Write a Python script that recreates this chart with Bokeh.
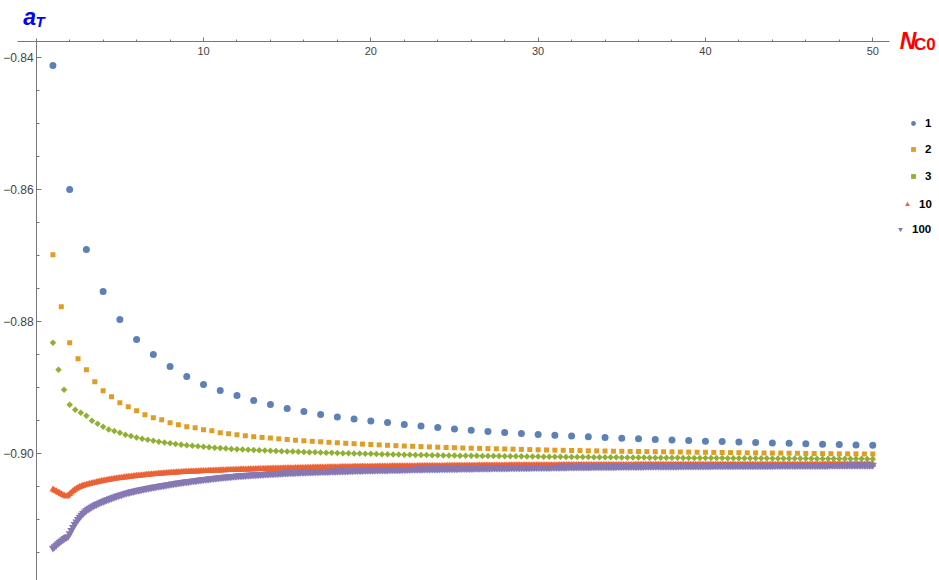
from bokeh.plotting import figure
from bokeh.models import Range1d, FixedTicker, CustomJSTickFormatter, Legend, LegendItem, Label
from bokeh.embed import file_html
from bokeh.resources import INLINE

# ---------------- data ----------------
legend_labels = ["1", "2", "3", "10", "100"]
x_major_ticks = [10, 20, 30, 40, 50]
x_minor_ticks = [2, 4, 6, 8, 12, 14, 16, 18, 22, 24, 26, 28, 32, 34, 36, 38, 42, 44, 46, 48]
y_major_ticks = [-0.84, -0.86, -0.88, -0.90]
y_minor_ticks = [-0.845, -0.85, -0.855, -0.865, -0.87, -0.875, -0.885, -0.89, -0.895,
                 -0.905, -0.91, -0.915]

# series "1": N_C0 = 1, 2, ..., 50
s1_x = list(range(1, 51))
s1_y = [-0.84114, -0.85992, -0.86902, -0.87538, -0.87962, -0.88265, -0.88492, -0.88674, -0.88826, -0.88947,
        -0.89038, -0.89114, -0.89189, -0.89250, -0.89311, -0.89356, -0.89402, -0.89439, -0.89470, -0.89500,
        -0.89523, -0.89553, -0.89576, -0.89598, -0.89621, -0.89639, -0.89659, -0.89674, -0.89689, -0.89705,
        -0.89717, -0.89727, -0.89739, -0.89750, -0.89761, -0.89770, -0.89780, -0.89789, -0.89797, -0.89805,
        -0.89812, -0.89820, -0.89826, -0.89833, -0.89839, -0.89845, -0.89852, -0.89856, -0.89862, -0.89868]

# series "2": N_C0 = 1, 1.5, ..., 50
s2_x = [1 + 0.5 * i for i in range(99)]
s2_y = [-0.86982, -0.87770, -0.88315, -0.88558, -0.88724, -0.88906, -0.89042, -0.89133,
        -0.89224, -0.89285, -0.89345, -0.89406, -0.89452, -0.89482, -0.89527, -0.89558,
        -0.89588, -0.89603, -0.89633, -0.89649, -0.89679, -0.89694, -0.89708, -0.89724,
        -0.89738, -0.89749, -0.89758, -0.89770, -0.89780, -0.89791, -0.89800, -0.89808,
        -0.89815, -0.89823, -0.89830, -0.89838, -0.89844, -0.89850, -0.89856, -0.89862,
        -0.89868, -0.89874, -0.89879, -0.89883, -0.89888, -0.89892, -0.89897, -0.89902,
        -0.89905, -0.89909, -0.89912, -0.89915, -0.89918, -0.89921, -0.89924, -0.89927,
        -0.89930, -0.89933, -0.89936, -0.89939, -0.89942, -0.89944, -0.89947, -0.89948,
        -0.89952, -0.89953, -0.89955, -0.89958, -0.89959, -0.89961, -0.89962, -0.89964,
        -0.89965, -0.89967, -0.89968, -0.89970, -0.89971, -0.89973, -0.89974, -0.89976,
        -0.89977, -0.89979, -0.89980, -0.89982, -0.89983, -0.89985, -0.89986, -0.89986,
        -0.89988, -0.89989, -0.89991, -0.89992, -0.89994, -0.89995, -0.89997, -0.89998,
        -0.89998, -0.89999, -0.90000]

# series "3": N_C0 = 1, 4/3, 5/3, ..., 50
s3_x = [1 + i / 3 for i in range(148)]
s3_y = [-0.88315,
        -0.88724, -0.89027, -0.89255, -0.89330, -0.89376, -0.89421,
        -0.89497, -0.89542, -0.89588, -0.89629, -0.89652, -0.89679,
        -0.89708, -0.89729, -0.89750, -0.89768, -0.89785, -0.89800,
        -0.89814, -0.89826, -0.89836, -0.89847, -0.89858, -0.89867,
        -0.89876, -0.89883, -0.89891, -0.89898, -0.89905, -0.89911,
        -0.89917, -0.89923, -0.89927, -0.89931, -0.89935, -0.89939,
        -0.89943, -0.89947, -0.89950, -0.89953, -0.89957, -0.89961,
        -0.89964, -0.89967, -0.89970, -0.89972, -0.89975, -0.89977,
        -0.89980, -0.89982, -0.89985, -0.89987, -0.89990, -0.89992,
        -0.89994, -0.89996, -0.89998, -0.90000, -0.90003, -0.90005,
        -0.90007, -0.90009, -0.90011, -0.90012, -0.90014, -0.90015,
        -0.90017, -0.90018, -0.90020, -0.90021, -0.90023, -0.90024,
        -0.90025, -0.90026, -0.90027, -0.90028, -0.90029, -0.90030,
        -0.90031, -0.90032, -0.90033, -0.90034, -0.90035, -0.90036,
        -0.90037, -0.90038, -0.90039, -0.90040, -0.90041, -0.90042,
        -0.90043, -0.90044, -0.90045, -0.90046, -0.90046, -0.90047,
        -0.90048, -0.90049, -0.90050, -0.90050, -0.90051, -0.90052,
        -0.90052, -0.90053, -0.90053, -0.90054, -0.90055, -0.90056,
        -0.90056, -0.90057, -0.90058, -0.90058, -0.90059, -0.90059,
        -0.90060, -0.90060, -0.90061, -0.90061, -0.90062, -0.90062,
        -0.90063, -0.90063, -0.90064, -0.90064, -0.90065, -0.90065,
        -0.90066, -0.90066, -0.90067, -0.90067, -0.90068, -0.90068,
        -0.90069, -0.90069, -0.90070, -0.90070, -0.90071, -0.90071,
        -0.90072, -0.90072, -0.90072, -0.90072, -0.90073, -0.90073,
        -0.90073, -0.90074, -0.90074]

# series "10": N_C0 = 1.0, 1.1, ..., 50.0 (one row per unit of N_C0)
s10_x = [round(1 + 0.1 * i, 1) for i in range(491)]
s10_y = [
    -0.90538, -0.90552, -0.90565, -0.90579, -0.90592, -0.90606, -0.90620, -0.90633, -0.90644, -0.90629,
    -0.90606, -0.90583, -0.90562, -0.90542, -0.90526, -0.90511, -0.90498, -0.90488, -0.90479, -0.90473,
    -0.90467, -0.90459, -0.90453, -0.90447, -0.90441, -0.90435, -0.90429, -0.90423, -0.90417, -0.90411,
    -0.90406, -0.90402, -0.90397, -0.90392, -0.90388, -0.90383, -0.90379, -0.90374, -0.90371, -0.90367,
    -0.90364, -0.90361, -0.90357, -0.90354, -0.90351, -0.90347, -0.90344, -0.90341, -0.90338, -0.90335,
    -0.90332, -0.90329, -0.90326, -0.90324, -0.90321, -0.90318, -0.90316, -0.90313, -0.90311, -0.90308,
    -0.90306, -0.90304, -0.90302, -0.90299, -0.90297, -0.90295, -0.90293, -0.90291, -0.90290, -0.90288,
    -0.90286, -0.90284, -0.90282, -0.90281, -0.90279, -0.90277, -0.90276, -0.90274, -0.90273, -0.90271,
    -0.90270, -0.90269, -0.90267, -0.90266, -0.90265, -0.90264, -0.90263, -0.90262, -0.90261, -0.90260,
    -0.90259, -0.90258, -0.90257, -0.90256, -0.90255, -0.90254, -0.90252, -0.90251, -0.90250, -0.90249,
    -0.90248, -0.90247, -0.90246, -0.90245, -0.90244, -0.90244, -0.90243, -0.90242, -0.90241, -0.90240,
    -0.90239, -0.90238, -0.90237, -0.90236, -0.90235, -0.90235, -0.90234, -0.90233, -0.90232, -0.90231,
    -0.90230, -0.90229, -0.90229, -0.90228, -0.90227, -0.90227, -0.90226, -0.90225, -0.90225, -0.90224,
    -0.90223, -0.90222, -0.90222, -0.90221, -0.90221, -0.90220, -0.90219, -0.90219, -0.90218, -0.90218,
    -0.90217, -0.90216, -0.90216, -0.90215, -0.90215, -0.90214, -0.90213, -0.90213, -0.90212, -0.90212,
    -0.90211, -0.90210, -0.90210, -0.90209, -0.90209, -0.90208, -0.90207, -0.90207, -0.90206, -0.90206,
    -0.90205, -0.90205, -0.90204, -0.90204, -0.90203, -0.90203, -0.90202, -0.90202, -0.90201, -0.90201,
    -0.90200, -0.90200, -0.90199, -0.90199, -0.90198, -0.90198, -0.90197, -0.90197, -0.90196, -0.90196,
    -0.90195, -0.90195, -0.90195, -0.90194, -0.90194, -0.90194, -0.90193, -0.90193, -0.90193, -0.90192,
    -0.90192, -0.90192, -0.90192, -0.90191, -0.90191, -0.90191, -0.90190, -0.90190, -0.90190, -0.90189,
    -0.90189, -0.90189, -0.90188, -0.90188, -0.90188, -0.90187, -0.90187, -0.90187, -0.90186, -0.90186,
    -0.90186, -0.90186, -0.90186, -0.90186, -0.90185, -0.90185, -0.90185, -0.90185, -0.90184, -0.90184,
    -0.90184, -0.90184, -0.90184, -0.90183, -0.90183, -0.90183, -0.90183, -0.90183, -0.90182, -0.90182,
    -0.90182, -0.90182, -0.90181, -0.90181, -0.90181, -0.90181, -0.90180, -0.90180, -0.90180, -0.90180,
    -0.90180, -0.90179, -0.90179, -0.90179, -0.90179, -0.90178, -0.90178, -0.90178, -0.90178, -0.90177,
    -0.90177, -0.90177, -0.90177, -0.90177, -0.90176, -0.90176, -0.90176, -0.90176, -0.90176, -0.90176,
    -0.90175, -0.90175, -0.90175, -0.90175, -0.90175, -0.90175, -0.90174, -0.90174, -0.90174, -0.90174,
    -0.90174, -0.90174, -0.90174, -0.90173, -0.90173, -0.90173, -0.90173, -0.90173, -0.90173, -0.90172,
    -0.90172, -0.90172, -0.90172, -0.90172, -0.90172, -0.90172, -0.90171, -0.90171, -0.90171, -0.90171,
    -0.90171, -0.90171, -0.90171, -0.90171, -0.90170, -0.90170, -0.90170, -0.90170, -0.90170, -0.90170,
    -0.90170, -0.90170, -0.90170, -0.90169, -0.90169, -0.90169, -0.90169, -0.90169, -0.90169, -0.90169,
    -0.90169, -0.90169, -0.90169, -0.90169, -0.90168, -0.90168, -0.90168, -0.90168, -0.90168, -0.90168,
    -0.90168, -0.90168, -0.90168, -0.90168, -0.90168, -0.90168, -0.90167, -0.90167, -0.90167, -0.90167,
    -0.90167, -0.90167, -0.90167, -0.90167, -0.90167, -0.90167, -0.90167, -0.90167, -0.90167, -0.90167,
    -0.90167, -0.90166, -0.90166, -0.90166, -0.90166, -0.90166, -0.90166, -0.90166, -0.90165, -0.90165,
    -0.90165, -0.90165, -0.90165, -0.90165, -0.90165, -0.90165, -0.90165, -0.90165, -0.90165, -0.90165,
    -0.90165, -0.90165, -0.90165, -0.90165, -0.90165, -0.90165, -0.90165, -0.90165, -0.90165, -0.90165,
    -0.90165, -0.90164, -0.90164, -0.90164, -0.90164, -0.90164, -0.90164, -0.90164, -0.90164, -0.90164,
    -0.90164, -0.90164, -0.90164, -0.90164, -0.90164, -0.90164, -0.90164, -0.90164, -0.90164, -0.90164,
    -0.90164, -0.90164, -0.90164, -0.90164, -0.90164, -0.90164, -0.90164, -0.90164, -0.90164, -0.90164,
    -0.90164, -0.90163, -0.90163, -0.90163, -0.90163, -0.90163, -0.90163, -0.90163, -0.90163, -0.90163,
    -0.90163, -0.90163, -0.90163, -0.90163, -0.90163, -0.90163, -0.90163, -0.90163, -0.90163, -0.90163,
    -0.90163, -0.90163, -0.90163, -0.90163, -0.90163, -0.90163, -0.90163, -0.90163, -0.90163, -0.90163,
    -0.90163, -0.90162, -0.90162, -0.90162, -0.90162, -0.90162, -0.90162, -0.90162, -0.90162, -0.90162,
    -0.90162, -0.90162, -0.90162, -0.90162, -0.90162, -0.90162, -0.90162, -0.90162, -0.90162, -0.90162,
    -0.90162, -0.90162, -0.90162, -0.90162, -0.90162, -0.90162, -0.90162, -0.90162, -0.90162, -0.90162,
    -0.90162, -0.90161, -0.90161, -0.90161, -0.90161, -0.90161, -0.90161, -0.90161, -0.90161, -0.90161,
    -0.90161, -0.90161, -0.90161, -0.90161, -0.90161, -0.90161, -0.90161, -0.90161, -0.90161, -0.90161,
    -0.90161, -0.90161, -0.90161, -0.90161, -0.90161, -0.90161, -0.90161, -0.90161, -0.90161, -0.90161,
    -0.90161]

# series "100": read at N_C0 = 1.0, 1.1, ..., 50.0 (the dense original forms a solid band)
s100_x = [round(1 + 0.1 * i, 1) for i in range(491)]
s100_y = [
    -0.91424, -0.91402, -0.91379, -0.91356, -0.91335, -0.91314, -0.91296, -0.91279, -0.91262, -0.91250,
    -0.91205, -0.91156, -0.91109, -0.91065, -0.91026, -0.90989, -0.90956, -0.90926, -0.90900, -0.90876,
    -0.90855, -0.90836, -0.90820, -0.90803, -0.90788, -0.90774, -0.90762, -0.90750, -0.90738, -0.90727,
    -0.90717, -0.90706, -0.90695, -0.90686, -0.90676, -0.90667, -0.90658, -0.90649, -0.90639, -0.90630,
    -0.90621, -0.90614, -0.90606, -0.90598, -0.90591, -0.90583, -0.90577, -0.90571, -0.90565, -0.90559,
    -0.90553, -0.90547, -0.90542, -0.90536, -0.90532, -0.90526, -0.90521, -0.90517, -0.90511, -0.90506,
    -0.90502, -0.90497, -0.90492, -0.90488, -0.90483, -0.90479, -0.90474, -0.90470, -0.90467, -0.90462,
    -0.90458, -0.90453, -0.90450, -0.90445, -0.90442, -0.90438, -0.90435, -0.90430, -0.90427, -0.90423,
    -0.90420, -0.90417, -0.90412, -0.90409, -0.90405, -0.90402, -0.90399, -0.90396, -0.90391, -0.90388,
    -0.90385, -0.90382, -0.90379, -0.90376, -0.90373, -0.90370, -0.90368, -0.90365, -0.90362, -0.90359,
    -0.90356, -0.90354, -0.90351, -0.90349, -0.90346, -0.90344, -0.90342, -0.90339, -0.90337, -0.90334,
    -0.90332, -0.90330, -0.90328, -0.90327, -0.90325, -0.90323, -0.90321, -0.90319, -0.90318, -0.90316,
    -0.90314, -0.90312, -0.90311, -0.90309, -0.90308, -0.90306, -0.90304, -0.90303, -0.90301, -0.90300,
    -0.90298, -0.90297, -0.90296, -0.90294, -0.90293, -0.90292, -0.90290, -0.90289, -0.90288, -0.90286,
    -0.90285, -0.90284, -0.90283, -0.90282, -0.90281, -0.90280, -0.90278, -0.90277, -0.90276, -0.90275,
    -0.90274, -0.90273, -0.90272, -0.90271, -0.90270, -0.90270, -0.90269, -0.90268, -0.90267, -0.90266,
    -0.90265, -0.90264, -0.90264, -0.90263, -0.90262, -0.90262, -0.90261, -0.90260, -0.90260, -0.90259,
    -0.90258, -0.90257, -0.90257, -0.90256, -0.90255, -0.90254, -0.90254, -0.90253, -0.90252, -0.90251,
    -0.90250, -0.90249, -0.90249, -0.90248, -0.90248, -0.90247, -0.90246, -0.90246, -0.90245, -0.90245,
    -0.90244, -0.90243, -0.90243, -0.90242, -0.90242, -0.90241, -0.90241, -0.90240, -0.90240, -0.90239,
    -0.90239, -0.90238, -0.90238, -0.90237, -0.90237, -0.90236, -0.90236, -0.90235, -0.90235, -0.90234,
    -0.90233, -0.90233, -0.90232, -0.90232, -0.90231, -0.90231, -0.90230, -0.90230, -0.90229, -0.90229,
    -0.90228, -0.90228, -0.90227, -0.90227, -0.90226, -0.90226, -0.90226, -0.90225, -0.90225, -0.90224,
    -0.90224, -0.90224, -0.90223, -0.90223, -0.90222, -0.90222, -0.90222, -0.90221, -0.90221, -0.90221,
    -0.90220, -0.90220, -0.90220, -0.90219, -0.90219, -0.90219, -0.90218, -0.90218, -0.90218, -0.90217,
    -0.90217, -0.90217, -0.90216, -0.90216, -0.90216, -0.90215, -0.90215, -0.90214, -0.90214, -0.90214,
    -0.90213, -0.90213, -0.90212, -0.90212, -0.90212, -0.90211, -0.90211, -0.90210, -0.90210, -0.90210,
    -0.90209, -0.90209, -0.90209, -0.90208, -0.90208, -0.90208, -0.90207, -0.90207, -0.90207, -0.90206,
    -0.90206, -0.90206, -0.90206, -0.90205, -0.90205, -0.90205, -0.90204, -0.90204, -0.90204, -0.90203,
    -0.90203, -0.90203, -0.90202, -0.90202, -0.90202, -0.90201, -0.90201, -0.90201, -0.90200, -0.90200,
    -0.90200, -0.90200, -0.90199, -0.90199, -0.90199, -0.90198, -0.90198, -0.90198, -0.90197, -0.90197,
    -0.90197, -0.90197, -0.90196, -0.90196, -0.90196, -0.90195, -0.90195, -0.90195, -0.90194, -0.90194,
    -0.90194, -0.90194, -0.90193, -0.90193, -0.90193, -0.90192, -0.90192, -0.90192, -0.90192, -0.90191,
    -0.90191, -0.90191, -0.90191, -0.90190, -0.90190, -0.90190, -0.90190, -0.90189, -0.90189, -0.90189,
    -0.90189, -0.90188, -0.90188, -0.90188, -0.90188, -0.90187, -0.90187, -0.90187, -0.90187, -0.90186,
    -0.90186, -0.90186, -0.90186, -0.90186, -0.90185, -0.90185, -0.90185, -0.90185, -0.90185, -0.90184,
    -0.90184, -0.90184, -0.90184, -0.90184, -0.90183, -0.90183, -0.90183, -0.90183, -0.90183, -0.90182,
    -0.90182, -0.90182, -0.90182, -0.90182, -0.90182, -0.90181, -0.90181, -0.90181, -0.90181, -0.90181,
    -0.90181, -0.90180, -0.90180, -0.90180, -0.90180, -0.90180, -0.90180, -0.90179, -0.90179, -0.90179,
    -0.90179, -0.90179, -0.90179, -0.90179, -0.90178, -0.90178, -0.90178, -0.90178, -0.90178, -0.90178,
    -0.90178, -0.90177, -0.90177, -0.90177, -0.90177, -0.90177, -0.90177, -0.90177, -0.90177, -0.90177,
    -0.90177, -0.90176, -0.90176, -0.90176, -0.90176, -0.90176, -0.90176, -0.90176, -0.90175, -0.90175,
    -0.90175, -0.90175, -0.90175, -0.90175, -0.90175, -0.90175, -0.90175, -0.90175, -0.90175, -0.90175,
    -0.90175, -0.90174, -0.90174, -0.90174, -0.90174, -0.90174, -0.90174, -0.90173, -0.90173, -0.90173,
    -0.90173, -0.90173, -0.90173, -0.90173, -0.90173, -0.90173, -0.90172, -0.90172, -0.90172, -0.90172,
    -0.90172, -0.90172, -0.90172, -0.90172, -0.90171, -0.90171, -0.90171, -0.90171, -0.90171, -0.90171,
    -0.90171, -0.90171, -0.90171, -0.90171, -0.90170, -0.90170, -0.90170, -0.90170, -0.90170, -0.90170,
    -0.90170, -0.90170, -0.90170, -0.90170, -0.90169, -0.90169, -0.90169, -0.90169, -0.90169, -0.90169,
    -0.90169, -0.90169, -0.90169, -0.90169, -0.90169, -0.90168, -0.90168, -0.90168, -0.90168, -0.90168,
    -0.90168]

for xs, ys in [(s1_x, s1_y), (s2_x, s2_y), (s3_x, s3_y), (s10_x, s10_y), (s100_x, s100_y)]:
    assert len(xs) == len(ys), (len(xs), len(ys))

# ---------------- styling ----------------
FONT = "Liberation Sans"
AXIS_COLOR = "#777777"
LABEL_COLOR = "#444444"
COLORS = ["#5E81B5", "#E19C24", "#8FB032", "#EB6235", "#8778B3"]

W, H = 939, 580
X_START, X_END = -2.134, 53.99          # data area covers the whole canvas
Y_BOTTOM, Y_TOP = -0.919167, -0.831288
X_AXIS_AT = -0.8375                      # the N_C0 axis crosses here
Y_AXIS_AT = 0.0                          # the a_T axis crosses here

p = figure(width=W, height=H,
           x_range=Range1d(X_START, X_END), y_range=Range1d(Y_BOTTOM, Y_TOP),
           x_axis_location="above", y_axis_location="right",
           output_backend="svg", toolbar_location=None,
           min_border_left=0, min_border_right=0, min_border_top=0, min_border_bottom=0)
p.outline_line_color = None
p.xgrid.visible = False
p.ygrid.visible = False
p.background_fill_color = "white"
p.border_fill_color = "white"

# horizontal axis: line at a_T = -0.8375, ticks pointing up, labels just under the line
xa = p.xaxis[0]
xa.fixed_location = X_AXIS_AT
xa.bounds = (-1.12, 51.0)
xa.ticker = FixedTicker(ticks=x_major_ticks, minor_ticks=x_minor_ticks)
xa.axis_line_color = AXIS_COLOR
xa.major_tick_line_color = AXIS_COLOR
xa.minor_tick_line_color = AXIS_COLOR
xa.major_tick_in = 0
xa.major_tick_out = 4
xa.minor_tick_in = 0
xa.minor_tick_out = 2
xa.major_label_standoff = -18
xa.major_label_text_font = FONT
xa.major_label_text_font_size = "11px"
xa.major_label_text_color = LABEL_COLOR

# vertical axis: line at N_C0 = 0, ticks pointing right, labels to the left of the line
ya = p.yaxis[0]
ya.fixed_location = Y_AXIS_AT
ya.bounds = (-0.925, -0.83705)
ya.ticker = FixedTicker(ticks=y_major_ticks, minor_ticks=y_minor_ticks)
ya.formatter = CustomJSTickFormatter(code="return '\\u2212' + Math.abs(tick).toFixed(2);")
ya.axis_line_color = AXIS_COLOR
ya.major_tick_line_color = AXIS_COLOR
ya.minor_tick_line_color = AXIS_COLOR
ya.major_tick_in = 0
ya.major_tick_out = 5
ya.minor_tick_in = 0
ya.minor_tick_out = 3
ya.major_label_standoff = -38
ya.major_label_text_font = FONT
ya.major_label_text_font_size = "12px"
ya.major_label_text_color = LABEL_COLOR

r1 = p.scatter(s1_x, s1_y, marker="circle", size=7, fill_color=COLORS[0], line_color=None)
r2 = p.scatter(s2_x, s2_y, marker="square", size=5, fill_color=COLORS[1], line_color=None)
r3 = p.scatter(s3_x, s3_y, marker="square", angle=0.7854, size=4.6, fill_color=COLORS[2], line_color=None)
r10 = p.scatter(s10_x, s10_y, marker="triangle", size=7, fill_color=COLORS[3], line_color=None)
r100 = p.scatter(s100_x, s100_y, marker="inverted_triangle", size=8, fill_color=COLORS[4], line_color=None)

# legends: one per entry so that the entries are right-aligned like the reference
leg_locs = [(907, 451), (907, 425), (907, 398), (901, 370), (894, 345)]
for lab, rend, loc in zip(legend_labels, [r1, r2, r3, r10, r100], leg_locs):
    lg = Legend(items=[LegendItem(label=lab, renderers=[rend])], location=loc,
                border_line_color=None, background_fill_alpha=0, padding=0, margin=0,
                glyph_width=12, glyph_height=12, label_standoff=6, label_height=12,
                label_text_font=FONT, label_text_font_style="bold",
                label_text_font_size="11.5px", label_text_color="black")
    p.add_layout(lg)

# axis titles
p.add_layout(Label(x=-0.777, y=-0.833826, text="a", text_font=FONT, text_font_style="bold italic",
                   text_font_size="23px", text_color="#0000FF", text_baseline="alphabetic"))
p.add_layout(Label(x=-0.042, y=-0.834477, text="T", text_font=FONT, text_font_style="bold italic",
                   text_font_size="15px", text_color="#0000FF", text_baseline="alphabetic"))
p.add_layout(Label(x=51.62, y=-0.837356, text="N", text_font=FONT, text_font_style="bold italic",
                   text_font_size="23px", text_color="#FF0000", text_baseline="alphabetic"))
p.add_layout(Label(x=52.46, y=-0.837962, text="C0", text_font=FONT, text_font_style="bold",
                   text_font_size="17px", text_color="#FF0000", text_baseline="alphabetic"))

open("out.html", "w").write(file_html(p, INLINE))
